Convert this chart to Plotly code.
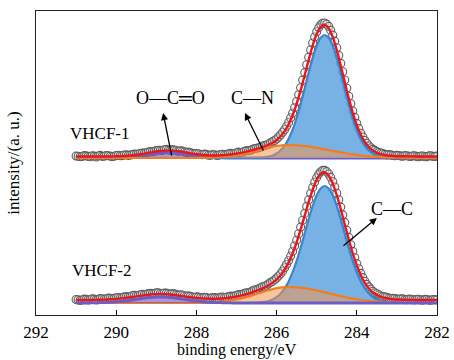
import numpy as np
import plotly.graph_objects as go

# Energy grid (eV), 291.0 -> 282.0 in 0.1 eV steps; measured points also at half steps
energy = [round(291.0 - 0.1 * i, 1) for i in range(91)]
energy_mid = [round(290.95 - 0.1 * i, 2) for i in range(90)]

# ---------------- VHCF-1 (top) : heights above its baseline ----------------
data_top = [2.0, 1.2, 2.4, 1.6, 2.2, 1.0, 2.6, 1.8, 2.3, 1.4,
            2.5, 2.2, 3.0, 2.6, 3.4, 3.6, 4.5, 4.9, 6.0, 6.3,
            7.4, 7.6, 8.3, 7.9, 8.4, 7.3, 7.2, 6.1, 5.9, 4.6,
            4.5, 3.5, 3.9, 2.8, 3.4, 2.6, 3.5, 3.2, 4.1, 4.0,
            5.2, 5.4, 6.8, 7.2, 8.6, 9.8, 10.9, 12.5, 14.0, 16.4,
            19.0, 23.2, 28.5, 35.6, 44.9, 56.5, 70.3, 85.4, 100.8, 115.0,
            126.2, 133.4, 135.0, 131.5, 122.9, 110.2, 94.6, 78.0, 61.8, 47.0,
            34.6, 24.8, 17.5, 12.3, 8.6, 6.4, 4.9, 3.6, 3.4, 2.5,
            2.6, 1.9, 2.4, 1.6, 2.2, 1.4, 2.0, 1.3, 2.1, 1.5, 1.9]
data_top_mid = [1.8, 1.5, 2.1, 1.3, 1.9, 2.0, 1.6, 2.5, 1.9, 1.7,
                2.8, 2.4, 3.1, 2.9, 3.9, 4.0, 4.9, 5.2, 6.4, 6.6,
                7.8, 7.4, 8.6, 7.6, 8.0, 6.6, 6.9, 5.4, 5.3, 4.0,
                4.2, 3.2, 3.6, 2.6, 3.3, 2.8, 3.7, 3.3, 4.6, 4.3,
                5.9, 5.8, 7.4, 7.6, 9.4, 10.1, 11.9, 13.0, 15.4, 17.5,
                21.0, 25.7, 31.9, 40.1, 50.5, 63.2, 77.9, 93.3, 108.2, 121.0,
                130.4, 134.8, 133.7, 127.6, 116.9, 102.6, 86.3, 69.8, 54.2, 40.6,
                29.4, 21.0, 14.8, 10.3, 7.6, 5.5, 4.4, 3.0, 3.1, 2.2,
                2.5, 1.7, 2.3, 1.5, 2.1, 1.3, 2.0, 1.4, 2.2, 1.6]
fit_top = [1.5] * 9 + [1.6, 1.7, 1.8, 2.0, 2.3, 2.7, 3.2, 3.8, 4.4, 5.1,
           5.9, 6.5, 7.0, 7.4, 7.5, 7.4, 7.0, 6.5, 5.9, 5.1,
           4.4, 3.9, 3.4, 3.0, 2.7, 2.5, 2.5, 2.7, 2.9, 3.3,
           3.8, 4.4, 5.1, 5.9, 6.8, 7.8, 9.1, 10.2, 11.6, 13.3,
           15.3, 18.0, 21.7, 26.8, 33.7, 42.7, 54.2, 67.8, 82.8, 98.2,
           112.5, 123.9, 131.1, 133.2, 129.6, 120.8, 107.9, 92.3, 75.7, 59.6,
           45.1, 32.9, 23.3, 16.0, 11.0, 7.4, 5.2, 3.8, 2.9, 2.4,
           2.1, 1.8, 1.8, 1.7, 1.6, 1.6] + [1.5] * 6
cc_top_start = 286.5
cc_top = [0.2, 0.3, 0.7, 1.4, 2.5, 4.5, 7.7, 12.4, 19.2, 28.3, 40.0, 53.9, 69.3, 85.2,
          100.1, 112.2, 120.2, 123.0, 120.2, 112.2, 100.1, 85.2, 69.3, 53.9, 40.0,
          28.3, 19.2, 12.4, 7.7, 4.5, 2.5, 1.4, 0.7, 0.3, 0.2]
cn_top_start = 288.0
cn_top = [0.1, 0.2, 0.3, 0.4, 0.5, 0.7, 1.0, 1.3, 1.8, 2.3, 2.9, 3.6, 4.4, 5.3, 6.3,
          7.4, 8.4, 9.4, 10.4, 11.3, 12.0, 12.5, 12.9, 13.0, 12.9, 12.7, 12.4, 12.0,
          11.5, 10.9, 10.2, 9.4, 8.7, 7.9, 7.1, 6.3, 5.6, 4.9, 4.2, 3.6, 3.1, 2.6,
          2.1, 1.8, 1.4, 1.2, 0.9, 0.7, 0.6, 0.4, 0.3, 0.3, 0.2, 0.1, 0.1]
oco_top_start = 290.1
oco_top = [0.1, 0.2, 0.3, 0.5, 0.8, 1.2, 1.7, 2.3, 2.9, 3.6, 4.4, 5.0, 5.5, 5.9, 6.0,
           5.9, 5.5, 5.0, 4.4, 3.6, 2.9, 2.3, 1.7, 1.2, 0.8, 0.5, 0.3, 0.2, 0.1]

# ---------------- VHCF-2 (bottom) ----------------
data_bot = [3.5, 2.6, 3.9, 3.0, 4.2, 3.1, 4.5, 3.8, 4.9, 4.2,
            5.3, 5.0, 6.1, 6.0, 7.2, 7.3, 8.3, 8.4, 9.4, 9.2,
            10.1, 9.5, 10.0, 9.3, 9.4, 8.4, 8.3, 7.2, 7.1, 6.0,
            6.1, 5.2, 5.6, 4.8, 5.4, 4.9, 5.6, 5.5, 6.4, 6.6,
            7.7, 8.2, 9.6, 10.3, 12.1, 13.4, 15.2, 16.8, 19.1, 21.6,
            25.0, 29.3, 35.2, 42.5, 51.8, 62.9, 75.9, 89.6, 103.3, 115.6,
            125.4, 131.2, 132.6, 129.0, 121.2, 109.8, 95.9, 80.6, 65.6, 51.6,
            39.4, 29.6, 21.8, 16.1, 11.8, 9.2, 7.0, 6.1, 4.9, 4.6,
            3.9, 4.2, 3.4, 3.9, 3.2, 3.8, 3.0, 3.6, 2.9, 3.5, 3.1]
data_bot_mid = [3.2, 3.0, 3.6, 3.4, 3.9, 3.6, 4.3, 4.1, 4.8, 4.6,
                5.5, 5.3, 6.4, 6.3, 7.6, 7.5, 8.7, 8.6, 9.6, 9.3,
                10.2, 9.2, 9.9, 8.7, 9.1, 7.7, 8.0, 6.5, 6.8, 5.5,
                5.9, 4.9, 5.5, 4.6, 5.4, 5.0, 6.0, 5.7, 6.9, 6.9,
                8.4, 8.6, 10.2, 10.9, 13.0, 14.1, 16.3, 17.7, 20.6, 23.1,
                27.0, 32.0, 38.8, 46.9, 57.3, 69.2, 82.8, 96.6, 109.8, 120.9,
                128.9, 132.6, 131.4, 125.6, 116.0, 103.2, 88.1, 72.8, 58.3, 45.2,
                34.2, 25.4, 18.6, 13.9, 10.2, 8.3, 6.3, 5.7, 4.5, 4.5,
                3.7, 4.1, 3.3, 3.8, 3.1, 3.7, 2.9, 3.5, 2.8, 3.4]
fit_bot = [3.0] * 4 + [3.1, 3.2, 3.3, 3.4, 3.6, 3.8,
           4.1, 4.5, 4.9, 5.5, 6.0, 6.6, 7.2, 7.8, 8.3, 8.7,
           8.9, 9.0, 8.9, 8.7, 8.3, 7.8, 7.2, 6.6, 6.0, 5.5,
           5.0, 4.7, 4.5, 4.3, 4.2, 4.3, 4.5, 4.8, 5.3, 5.8,
           6.6, 7.4, 8.4, 9.5, 10.9, 12.4, 13.9, 15.7, 17.8, 20.4,
           23.6, 27.8, 33.5, 40.6, 49.7, 60.7, 73.6, 87.3, 101.1, 113.4,
           123.3, 129.2, 130.7, 127.3, 119.4, 107.8, 93.8, 78.5, 63.5, 49.5,
           37.6, 27.8, 20.2, 14.6, 10.5, 8.0, 6.1, 5.0, 4.3, 3.8,
           3.5, 3.4, 3.2, 3.1, 3.1] + [3.0] * 6
cc_bot_start = 286.6
cc_bot = [0.1, 0.3, 0.6, 1.1, 2.0, 3.5, 5.8, 9.4, 14.6, 21.6, 30.8, 42.1, 55.3, 69.5,
          83.9, 97.0, 107.7, 114.6, 117.0, 114.6, 107.7, 97.0, 83.9, 69.5, 55.3,
          42.1, 30.8, 21.6, 14.6, 9.4, 5.8, 3.5, 2.0, 1.1, 0.6, 0.3, 0.1]
cn_bot_start = 288.0
cn_bot = [0.1, 0.2, 0.4, 0.5, 0.6, 0.9, 1.2, 1.6, 2.2, 2.8, 3.6, 4.4, 5.4, 6.5, 7.8,
          9.1, 10.3, 11.6, 12.8, 13.9, 14.8, 15.4, 15.9, 16.0, 15.9, 15.6, 15.3, 14.8,
          14.2, 13.4, 12.6, 11.6, 10.7, 9.7, 8.7, 7.8, 6.9, 6.0, 5.2, 4.4, 3.8, 3.2,
          2.6, 2.2, 1.7, 1.5, 1.1, 0.9, 0.7, 0.5, 0.4, 0.4, 0.2, 0.1, 0.1]
oco_bot_start = 290.6
oco_bot = [0.1, 0.2, 0.3, 0.4, 0.6, 0.8, 1.1, 1.5, 1.9, 2.5, 3.0, 3.6, 4.2, 4.8, 5.3,
           5.7, 5.9, 6.0, 5.9, 5.7, 5.3, 4.8, 4.2, 3.6, 3.0, 2.5, 1.9, 1.5, 1.1, 0.8,
           0.6, 0.4, 0.3, 0.2, 0.1]


def pad(start, vals):
    out = [0.0] * len(energy)
    i0 = energy.index(start)
    for k, v in enumerate(vals):
        out[i0 + k] = v
    return out


def merge(full, mid):
    xs, ys = [], []
    for i in range(len(energy)):
        xs.append(energy[i]); ys.append(full[i])
        if i < len(energy_mid):
            xs.append(energy_mid[i]); ys.append(mid[i])
    return xs, ys


FONT = "Liberation Serif"
fig = go.Figure()


def add_spectrum(axis, data, mid, fit, cc, cn, oco, order):
    comps = {
        "cc": dict(y=cc, line=dict(color="#3a86cc", width=2.2, shape="spline"),
                   fillcolor="rgba(96,164,224,0.85)"),
        "oco": dict(y=oco, line=dict(color="#6c5cc8", width=2.8, shape="spline"),
                    fillcolor="rgba(125,90,190,0.65)"),
        "cn": dict(y=cn, line=dict(color="#f07d22", width=2.2, shape="spline"),
                   fillcolor="rgba(243,150,80,0.55)"),
    }
    xs, ys = merge(data, mid)
    fig.add_trace(go.Scatter(x=xs, y=ys, yaxis=axis, mode="markers",
                             marker=dict(symbol="circle", size=8,
                                         color="rgba(240,240,240,0.4)",
                                         line=dict(color="#5e5e5e", width=1.1)),
                             hoverinfo="skip"))
    for key in order:
        c = comps[key]
        fig.add_trace(go.Scatter(x=energy, y=c["y"], yaxis=axis, mode="lines",
                                 fill="tozeroy", line=c["line"],
                                 fillcolor=c["fillcolor"], hoverinfo="skip"))
    fig.add_trace(go.Scatter(x=energy, y=fit, yaxis=axis, mode="lines",
                             line=dict(color="#e8161e", width=2.4, shape="spline"),
                             hoverinfo="skip"))


add_spectrum("y", data_bot, data_bot_mid, fit_bot, pad(cc_bot_start, cc_bot),
             pad(cn_bot_start, cn_bot), pad(oco_bot_start, oco_bot),
             ["cc", "cn", "oco"])
add_spectrum("y2", data_top, data_top_mid, fit_top, pad(cc_top_start, cc_top),
             pad(cn_top_start, cn_top), pad(oco_top_start, oco_top),
             ["oco", "cc", "cn"])

txt = dict(family=FONT, size=17, color="black")
txt_big = dict(family=FONT, size=18, color="black")
arrow = dict(showarrow=True, arrowhead=2, arrowsize=1.1, arrowwidth=1.3,
             arrowcolor="black", text="")
ann = [
    dict(x=288.64, y=60, xref="x", yref="y2", text="O—C═O", showarrow=False, font=txt_big),
    dict(x=286.61, y=60, xref="x", yref="y2", text="C—N", showarrow=False, font=txt_big),
    dict(x=290.40, y=25, xref="x", yref="y2", text="VHCF-1", showarrow=False, font=txt),
    dict(x=290.35, y=33, xref="x", yref="y", text="VHCF-2", showarrow=False, font=txt),
    dict(x=283.12, y=94, xref="x", yref="y", text="C—C", showarrow=False, font=txt_big),
    dict(x=288.83, y=45, xref="x", yref="y2", ax=288.61, ay=1, axref="x", ayref="y2", **arrow),
    dict(x=286.79, y=45, xref="x", yref="y2", ax=286.31, ay=6, axref="x", ayref="y2", **arrow),
    dict(x=283.50, y=85, xref="x", yref="y", ax=284.37, ay=56, axref="x", ayref="y", **arrow),
    # axis title placed as paper-anchored text under the tick labels
    dict(x=0.5, y=-0.116, xref="paper", yref="paper", xanchor="center", yanchor="middle",
         text="binding energy/eV", showarrow=False,
         font=dict(family=FONT, size=16, color="black")),
]

fig.update_layout(
    width=454, height=360,
    margin=dict(l=36, r=17, t=11, b=45),
    paper_bgcolor="white", plot_bgcolor="white",
    showlegend=False,
    annotations=ann,
    xaxis=dict(range=[292, 282], tickvals=[292, 290, 288, 286, 284, 282],
               ticks="inside", ticklen=5, tickcolor="black", tickwidth=1,
               showline=True, linecolor="#222", linewidth=1.2, mirror=True,
               showgrid=False, zeroline=False, automargin=False,
               ticklabelstandoff=1,
               tickfont=dict(family=FONT, size=17, color="black")),
    yaxis=dict(range=[-12, 292], showticklabels=False, ticks="", showgrid=False,
               zeroline=False, showline=True, linecolor="#222", linewidth=1.2, mirror=True,
               automargin=False,
               title=dict(text="intensity/(a. u.)", font=dict(family=FONT, size=17, color="black"),
                          standoff=10)),
    yaxis2=dict(range=[-157, 147], overlaying="y", showticklabels=False, ticks="",
                showgrid=False, zeroline=False, showline=False, automargin=False),
)

fig.write_html("out.html")
